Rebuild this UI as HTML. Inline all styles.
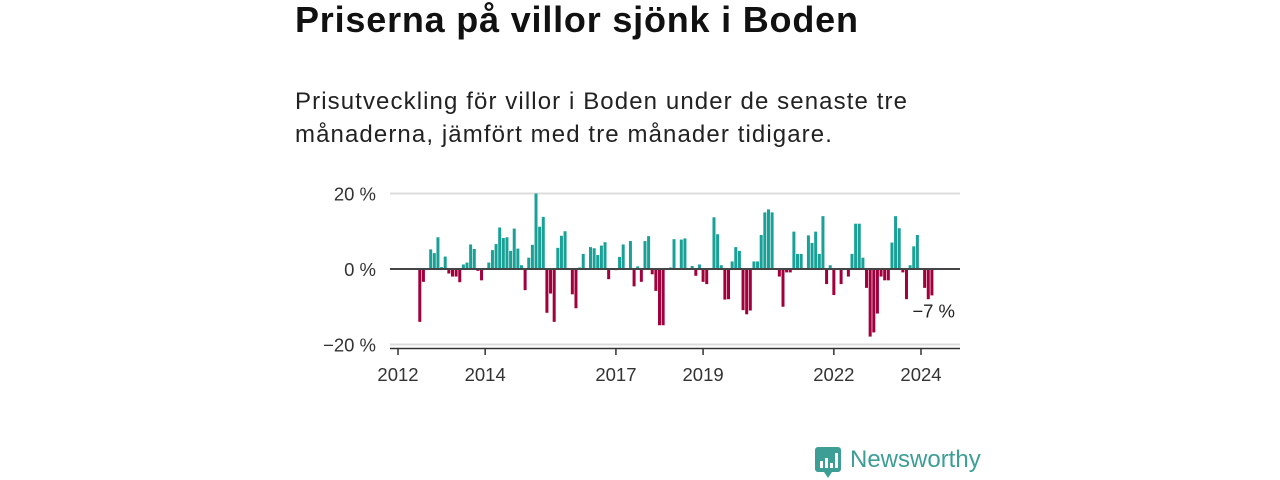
<!DOCTYPE html>
<html><head><meta charset="utf-8"><style>
body{margin:0;width:1280px;height:480px;background:#fff;font-family:"Liberation Sans","DejaVu Sans",sans-serif;overflow:hidden;position:relative}
h1{position:absolute;left:295px;top:-1px;margin:0;font-size:36px;font-weight:bold;color:#111;letter-spacing:0.8px;white-space:nowrap}
p{position:absolute;left:295px;top:85px;margin:0;font-size:24px;line-height:33px;color:#222;letter-spacing:1.1px;white-space:nowrap}
svg{position:absolute;left:0;top:0}
</style></head><body>
<h1>Priserna på villor sjönk i Boden</h1>
<p>Prisutveckling för villor i Boden under de senaste tre<br>månaderna, jämfört med tre månader tidigare.</p>
<svg id="chart" width="1280" height="480"></svg>
<script>
const startMonth = 6; // July 2012, months since Jan 2012
const values = [-14,-3.4,0,5.2,4.2,8.4,0.5,3.3,-1.2,-2,-2,-3.5,1.2,1.7,6.5,5.3,-0.5,-3,0,1.7,5,6.6,11,8.2,8.4,4.8,10.7,5.4,1,-5.6,3,6.4,20,11.2,13.8,-11.6,-6.5,-14,5.6,8.8,10,0,-6.7,-10.4,0.4,4,
0,
5.8,5.5,3.7,6.2,7.1,-2.7,0,-0.3,3.2,6.5,0,7.4,-4.6,0.7,-3.4,7.4,8.7,-1.4,-5.8,-14.9,-14.9,0,0.4,7.9,0,7.8,8.1,0,0.8,-1.8,1.2,-3.4,-4,0,13.7,9.2,1,-8.1,-8,2,5.8,4.8,-10.9,-12,-11,2,2,9,15,15.8,15,0,
-2,-10,-0.9,-0.9,9.9,4,4,0,8.9,6.9,9.9,4,14,-4,1,-6.9,0,-4,0,-2,4,12,12,3,-5,-17.9,-16.8,-11.8,-2,-3,-3,7,14,10.8,-0.9,-8,1,6,9,0,-5,-8,-7];
const yTicks = [20,0,-20];
const yTickLabels = ["20 %","0 %","\u221220 %"];
const xTickYears = [2012,2014,2017,2019,2022,2024];
const lastLabel = "\u22127 %";

const NS="http://www.w3.org/2000/svg";
const svg=document.getElementById('chart');
const x0=398, pxPerMonth=3.632;
const xScale=m=>x0+m*pxPerMonth;
const y0=269, pxPerPct=3.775;
const yScale=v=>y0-v*pxPerPct;
function mk(t,a){const e=document.createElementNS(NS,t);for(const k in a)e.setAttribute(k,a[k]);svg.appendChild(e);return e;}

yTicks.forEach((t,i)=>{
  if(t!==0){const g=mk('line',{x1:390,x2:960,y1:yScale(t),y2:yScale(t),stroke:'#ddd','stroke-width':2});
  
  }
  const tx=mk('text',{x:376,y:yScale(t)+7,'text-anchor':'end','font-size':18.5,fill:'#333','font-family':'Liberation Sans, sans-serif'});
  tx.textContent=yTickLabels[i];
  
  
});
values.forEach((v,i)=>{
  if(v===0)return;
  const cx=xScale(startMonth+i);
  const r=mk('rect',{x:cx-1.5,y:Math.min(yScale(v),y0),width:3,height:Math.abs(yScale(v)-y0),fill:v>0?'#1aa197':'#a1003d'});
  
  
});
const zl=mk('line',{x1:390,x2:960,y1:y0,y2:y0,stroke:'#444','stroke-width':2});


const ax=mk('line',{x1:390,x2:960,y1:348.5,y2:348.5,stroke:'#333','stroke-width':1.5});


xTickYears.forEach(yr=>{
  const x=xScale((yr-2012)*12);
  const tk=mk('line',{x1:x,x2:x,y1:348,y2:355,stroke:'#333','stroke-width':1.5});
  
  
  const t=mk('text',{x:x,y:381,'text-anchor':'middle','font-size':18.5,fill:'#333','font-family':'Liberation Sans, sans-serif'});
  t.textContent=yr;
  
  
});
const lv=values[values.length-1];
const ll=mk('text',{x:955,y:yScale(lv)+22,'text-anchor':'end','font-size':18.5,fill:'#222','font-family':'Liberation Sans, sans-serif'});
ll.textContent=lastLabel;


</script>
<div style="position:absolute;left:815px;top:447px;display:flex;align-items:center">
  <svg width="26" height="32" viewBox="0 0 26 32" style="position:static"><rect x="0" y="0" width="26" height="25" rx="3" fill="#3d9e96"/><polygon points="9,25 17,25 13,31" fill="#3d9e96"/><rect x="5" y="14" width="3" height="7" fill="#fff"/><rect x="10" y="11" width="3" height="10" fill="#fff"/><rect x="15" y="16" width="3" height="5" fill="#fff"/><rect x="20" y="6" width="3" height="15" fill="#fff"/></svg>
  <span style="font-size:24px;color:#3d9e96;margin-left:9px;margin-top:-6px">Newsworthy</span>
</div>
</body></html>
